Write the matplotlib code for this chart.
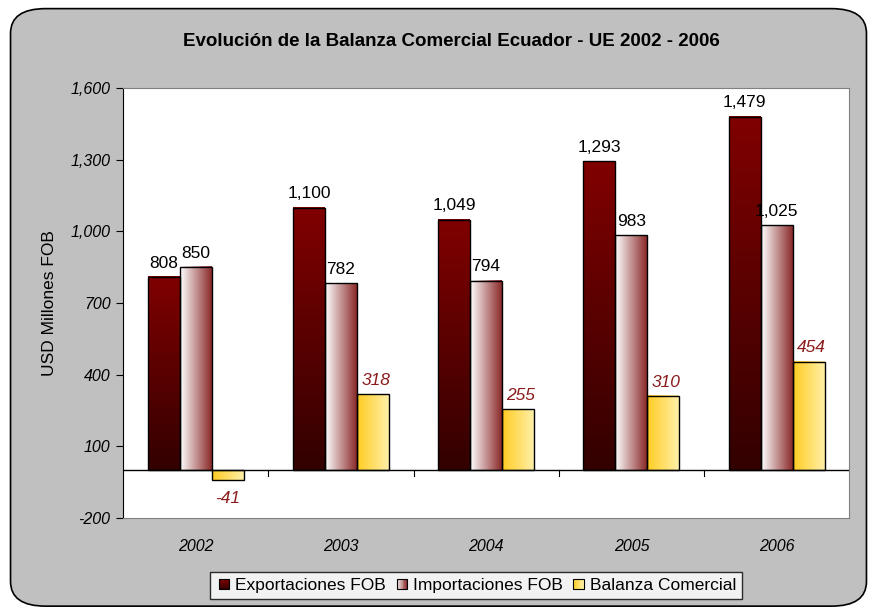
import matplotlib
matplotlib.use('Agg')
import matplotlib.pyplot as plt
import numpy as np
from matplotlib.patches import FancyBboxPatch, Rectangle
from matplotlib.legend_handler import HandlerBase
from matplotlib.colors import LinearSegmentedColormap

plt.rcParams['font.family'] = ['Liberation Sans', 'DejaVu Sans']

years = ['2002', '2003', '2004', '2005', '2006']
exportaciones = [808, 1100, 1049, 1293, 1479]
importaciones = [850, 782, 794, 983, 1025]
balanza = [-41, 318, 255, 310, 454]
series_names = ['Exportaciones FOB', 'Importaciones FOB', 'Balanza Comercial']
yticks = [-200, 100, 400, 700, 1000, 1300, 1600]

cmap_exp = LinearSegmentedColormap.from_list('exp', ['#330000', '#800000'])
cmap_imp = LinearSegmentedColormap.from_list('imp', ['#ffffff', '#8b2a2a'])
cmap_bal = LinearSegmentedColormap.from_list('bal', ['#ffcc22', '#fff0a8'])
cmaps = [cmap_exp, cmap_imp, cmap_bal]
vertical = [True, False, False]

fig = plt.figure(figsize=(8.77, 6.16), dpi=100)
fig.patch.set_facecolor('white')
# grey rounded chart area
bg = FancyBboxPatch((0.012, 0.016), 0.976, 0.97, boxstyle='round,pad=0,rounding_size=0.04',
                    transform=fig.transFigure, facecolor='#c0c0c0', edgecolor='black',
                    linewidth=1.2, zorder=-10)
fig.patches.append(bg)

ax = fig.add_axes([0.1403, 0.159, 0.828, 0.698])
ax.set_zorder(1)
ax.set_facecolor('white')

x = np.arange(len(years))
w = 0.22
data = [exportaciones, importaciones, balanza]


def grad_bar(ax, x0, x1, y0, y1, cmap, vert):
    if vert:
        img = np.linspace(0, 1, 100).reshape(-1, 1)
    else:
        img = np.linspace(0, 1, 100).reshape(1, -1)
    ax.imshow(img, extent=(x0, x1, min(y0, y1), max(y0, y1)), origin='lower',
              cmap=cmap, aspect='auto', zorder=2)
    ax.add_patch(Rectangle((x0, min(y0, y1)), x1 - x0, abs(y1 - y0), facecolor='none',
                           edgecolor='black', linewidth=1.0, zorder=3))


for s, vals in enumerate(data):
    for i, v in enumerate(vals):
        cx = x[i] + (s - 1) * w
        grad_bar(ax, cx - w / 2, cx + w / 2, 0, v, cmaps[s], vertical[s])
        if s < 2:
            ax.text(cx, v + 28, f'{v:,}', ha='center', va='bottom', fontsize=12.5,
                    color='black')
        else:
            if v >= 0:
                ax.text(cx + 0.02, v + 28, f'{v:,}', ha='center', va='bottom', fontsize=12.5,
                        color='#8b1a1a', style='italic')
            else:
                ax.text(cx, v - 45, f'{v:,}', ha='center', va='top', fontsize=12.5,
                        color='#8b1a1a', style='italic')

ax.set_xlim(-0.5, len(years) - 0.5)
ax.set_ylim(-200, 1600)
ax.axhline(0, color='black', linewidth=1.0, zorder=4)
for b in np.arange(0.5, len(years) - 0.5, 1):
    ax.plot([b, b], [0, -25], color='black', linewidth=0.8, zorder=4)

ax.set_yticks(yticks)
ax.set_yticklabels([f'{t:,}' for t in yticks], fontsize=11.5, style='italic')
ax.tick_params(axis='y', direction='out', length=5, color='black', pad=4)
ax.set_xticks(x)
ax.set_xticklabels(years, fontsize=11.5, style='italic')
ax.tick_params(axis='x', length=0, pad=15)
ax.spines['left'].set_color('black')
for sp in ['top', 'right', 'bottom']:
    ax.spines[sp].set_color('#808080')

ax.set_ylabel('USD Millones FOB', fontsize=12.5, labelpad=10)

fig.text(0.515, 0.932, 'Evolución de la Balanza Comercial Ecuador - UE 2002 - 2006',
         ha='center', va='center', fontsize=13.5, fontweight='bold')


class GradHandler(HandlerBase):
    def __init__(self, cmap, vert):
        super().__init__()
        self.cmap = cmap
        self.vert = vert

    def create_artists(self, legend, orig_handle, xdescent, ydescent, width, height,
                       fontsize, trans):
        arts = []
        n = 12
        size = height * 0.85
        x0 = width - size
        y0 = -ydescent + (height - size) / 2
        for k in range(n):
            c = self.cmap((k + 0.5) / n)
            if self.vert:
                r = Rectangle((x0 - xdescent, y0 + k * size / n), size, size / n,
                              facecolor=c, edgecolor='none', transform=trans)
            else:
                r = Rectangle((x0 - xdescent + k * size / n, y0), size / n, size,
                              facecolor=c, edgecolor='none', transform=trans)
            arts.append(r)
        arts.append(Rectangle((x0 - xdescent, y0), size, size, facecolor='none',
                              edgecolor='black', linewidth=0.8, transform=trans))
        return arts


handles = [Rectangle((0, 0), 1, 1) for _ in range(3)]
hmap = {h: GradHandler(cmaps[k], vertical[k]) for k, h in enumerate(handles)}
leg = fig.legend(handles, series_names, handler_map=hmap, loc='center',
                 bbox_to_anchor=(0.543, 0.049), ncol=3, frameon=True, fancybox=False,
                 edgecolor='black', prop={'size': 12.5},
                 handlelength=0.75, handletextpad=0.35, columnspacing=0.45,
                 borderpad=0.35, borderaxespad=0)
leg.get_frame().set_linewidth(1.0)

fig.savefig('out.png', dpi=100)
